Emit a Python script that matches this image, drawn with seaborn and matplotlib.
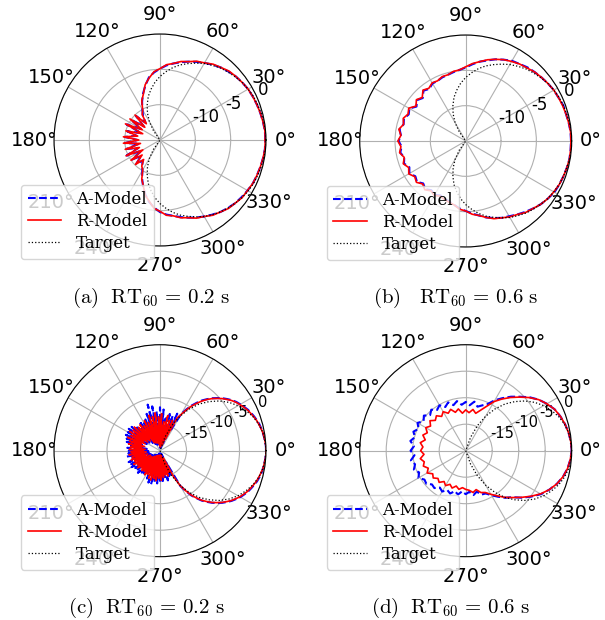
import numpy as np
import matplotlib
matplotlib.use("Agg")
import matplotlib.pyplot as plt
import seaborn as sns

# angles in degrees
ANGLES = list(range(0, 360, 5))
ANGLES_FINE = [i * 2.5 for i in range(144)]  # used for panel (c)

# target patterns (dB)
TARGET_TOP = [0.0, -0.0, -0.1, -0.2, -0.3, -0.4, -0.6, -0.8, -1.1, -1.4, -1.7, -2.1,
              -2.5, -3.0, -3.5, -4.0, -4.6, -5.3, -6.0, -6.8, -7.7, -8.6, -9.7, -10.8,
              -12.0, -13.4, -15.0, -15.0, -15.0, -15.0, -15.0, -15.0, -15.0, -15.0, -15.0, -15.0,
              -15.0, -15.0, -15.0, -15.0, -15.0, -15.0, -15.0, -15.0, -15.0, -15.0, -15.0, -13.4,
              -12.0, -10.8, -9.7, -8.6, -7.7, -6.8, -6.0, -5.3, -4.6, -4.0, -3.5, -3.0,
              -2.5, -2.1, -1.7, -1.4, -1.1, -0.8, -0.6, -0.4, -0.3, -0.2, -0.1, -0.0]

TARGET_BOT = [0.0, -0.1, -0.3, -0.7, -1.3, -2.1, -3.0, -4.1, -5.4, -6.9, -8.5, -10.4,
              -12.5, -14.8, -17.3, -20.0, -20.0, -20.0, -20.0, -20.0, -20.0, -20.0, -20.0, -20.0,
              -20.0, -20.0, -20.0, -20.0, -20.0, -20.0, -20.0, -20.0, -20.0, -20.0, -20.0, -20.0,
              -20.0, -20.0, -20.0, -20.0, -20.0, -20.0, -20.0, -20.0, -20.0, -20.0, -20.0, -20.0,
              -20.0, -20.0, -20.0, -20.0, -20.0, -20.0, -20.0, -20.0, -20.0, -20.0, -17.3, -14.8,
              -12.5, -10.4, -8.5, -6.9, -5.4, -4.1, -3.0, -2.1, -1.3, -0.7, -0.3, -0.1]

# (a) RT60 = 0.2 s, top row
A_MODEL_A = [-0.1, -0.1, -0.2, -0.3, -0.4, -0.5, -0.6, -0.8, -1.0, -1.3, -1.6, -2.0,
             -2.4, -2.8, -3.2, -3.6, -4.0, -4.4, -4.9, -5.4, -6.0, -7.0, -8.0, -9.0,
             -10.0, -10.8, -11.8, -10.2, -12.0, -10.0, -11.9, -9.8, -12.2, -10.2, -11.6, -10.0,
             -11.8, -10.0, -12.0, -10.1, -11.7, -9.8, -12.0, -10.2, -11.5, -10.3, -11.2, -10.6,
             -10.0, -9.0, -8.0, -7.0, -6.1, -5.4, -4.8, -4.4, -4.1, -3.7, -3.3, -2.9,
             -2.5, -2.1, -1.7, -1.4, -1.1, -0.9, -0.7, -0.5, -0.4, -0.3, -0.2, -0.1]
R_MODEL_A = [-0.1, -0.1, -0.2, -0.3, -0.4, -0.5, -0.6, -0.8, -1.0, -1.2, -1.6, -1.9,
             -2.4, -2.7, -3.2, -3.5, -4.0, -4.3, -4.9, -5.3, -6.1, -6.9, -8.1, -8.9,
             -10.1, -10.6, -12.0, -10.0, -12.2, -9.8, -12.1, -9.6, -12.4, -10.0, -11.8, -9.8,
             -12.0, -9.8, -12.2, -9.9, -11.9, -9.7, -12.2, -10.0, -11.7, -10.1, -11.4, -10.5,
             -10.1, -8.9, -8.1, -6.9, -6.2, -5.3, -4.9, -4.3, -4.1, -3.6, -3.3, -2.8,
             -2.5, -2.0, -1.7, -1.3, -1.1, -0.8, -0.7, -0.5, -0.4, -0.3, -0.2, -0.1]

# (b) RT60 = 0.6 s, top row
A_MODEL_B = [-0.1, -0.1, -0.2, -0.3, -0.3, -0.5, -0.6, -0.8, -1.0, -1.2, -1.4, -1.7,
             -1.9, -2.3, -2.7, -3.2, -3.6, -4.1, -4.6, -4.9, -5.1, -5.3, -5.4, -5.6,
             -5.6, -6.0, -5.7, -6.4, -6.0, -6.5, -5.8, -6.1, -5.7, -5.9, -5.5, -5.8,
             -5.5, -5.9, -5.6, -6.0, -5.7, -6.2, -5.8, -6.3, -6.0, -6.5, -6.1, -6.5,
             -6.2, -6.5, -6.3, -6.1, -5.8, -5.4, -5.1, -4.7, -4.3, -3.8, -3.4, -3.0,
             -2.7, -2.3, -1.9, -1.5, -1.1, -0.8, -0.5, -0.4, -0.3, -0.2, -0.1, -0.1]
R_MODEL_B = [-0.1, -0.1, -0.2, -0.3, -0.4, -0.5, -0.6, -0.8, -1.0, -1.2, -1.5, -1.7,
             -2.0, -2.3, -2.7, -3.1, -3.6, -4.0, -4.5, -4.9, -5.0, -5.3, -5.3, -5.6,
             -5.5, -5.9, -5.6, -6.3, -5.9, -6.4, -5.7, -6.0, -5.6, -5.9, -5.4, -5.8,
             -5.4, -5.8, -5.5, -6.0, -5.6, -6.1, -5.7, -6.2, -5.9, -6.4, -6.0, -6.4,
             -6.1, -6.4, -6.2, -6.0, -5.8, -5.3, -5.1, -4.6, -4.3, -3.8, -3.3, -3.0,
             -2.6, -2.3, -1.8, -1.5, -1.1, -0.8, -0.6, -0.4, -0.3, -0.2, -0.1, -0.1]

# (c) RT60 = 0.2 s, bottom row (2.5 deg steps)
A_MODEL_C = [0.0, 0.0, -0.1, -0.2, -0.3, -0.45, -0.6, -0.85, -1.1, -1.4, -1.7, -2.1,
             -2.5, -2.9, -3.4, -4.0, -4.6, -5.3, -6.0, -6.8, -7.6, -8.6, -9.6, -10.8,
             -12.0, -15.5, -12.3, -18.5, -13.0, -19.2, -12.5, -17.8, -13.8, -19.5, -12.2, -18.0,
             -11.8, -19.0, -12.5, -17.5, -11.5, -18.6, -11.0, -17.2, -12.6, -18.8, -13.5, -17.0,
             -14.0, -18.5, -13.2, -16.8, -14.2, -18.0, -13.4, -16.5, -13.0, -17.5, -12.8, -16.0,
             -13.0, -17.2, -12.9, -15.8, -13.3, -16.9, -13.5, -16.2, -14.0, -17.5, -13.8, -16.4,
             -14.1, -17.8, -14.0, -16.6, -13.6, -17.9, -14.2, -16.5, -13.7, -18.2, -14.0, -16.9,
             -13.8, -18.4, -14.3, -17.0, -14.5, -18.8, -14.1, -17.6, -14.6, -19.0, -14.4, -17.8,
             -14.8, -19.2, -14.2, -18.0, -13.6, -19.4, -13.4, -17.6, -14.0, -19.0, -13.8, -18.2,
             -14.3, -19.5, -13.9, -18.4, -14.5, -19.1, -14.2, -18.6, -14.9, -19.3, -15.0, -17.5,
             -12.3, -11.0, -9.7, -8.7, -7.7, -6.9, -6.1, -5.4, -4.7, -4.1, -3.5, -3.0,
             -2.5, -2.1, -1.7, -1.4, -1.1, -0.8, -0.6, -0.4, -0.3, -0.2, -0.1, 0.0]
R_MODEL_C = [0.0, 0.0, -0.1, -0.2, -0.3, -0.5, -0.7, -0.9, -1.2, -1.5, -1.8, -2.2,
             -2.6, -3.0, -3.5, -4.1, -4.7, -5.4, -6.1, -6.9, -7.8, -8.8, -9.8, -11.0,
             -12.2, -13.0, -17.5, -13.8, -18.8, -14.0, -19.0, -13.2, -18.6, -14.5, -19.3, -13.0,
             -18.2, -13.6, -19.0, -12.8, -18.0, -13.4, -18.5, -13.0, -17.8, -14.2, -18.4, -13.6,
             -17.6, -14.4, -18.2, -13.8, -17.0, -14.0, -17.4, -13.4, -16.8, -13.6, -17.2, -13.2,
             -16.4, -13.8, -16.9, -13.4, -16.2, -14.0, -17.0, -13.9, -16.5, -14.4, -17.2, -14.2,
             -16.8, -14.5, -17.4, -14.1, -16.9, -14.6, -17.6, -14.3, -17.1, -14.8, -18.0, -14.4,
             -17.3, -15.0, -18.1, -14.7, -17.6, -15.2, -18.5, -14.9, -18.0, -15.1, -18.8, -14.6,
             -18.3, -15.0, -19.0, -14.4, -18.5, -14.2, -19.1, -14.6, -18.2, -14.3, -18.9, -14.8,
             -18.0, -14.4, -19.2, -14.9, -18.4, -15.3, -19.0, -15.0, -18.2, -15.6, -18.5, -14.5,
             -12.4, -11.1, -9.8, -8.8, -7.8, -7.0, -6.2, -5.5, -4.8, -4.2, -3.6, -3.1,
             -2.6, -2.2, -1.8, -1.5, -1.2, -0.9, -0.7, -0.5, -0.3, -0.2, -0.1, 0.0]

# (d) RT60 = 0.6 s, bottom row
A_MODEL_D = [0.0, -0.1, -0.3, -0.6, -1.0, -1.5, -2.3, -3.2, -4.3, -5.6, -6.7, -7.9,
             -9.0, -10.3, -10.9, -11.4, -10.6, -11.4, -10.8, -11.3, -10.5, -11.1, -10.3, -10.9,
             -10.1, -10.6, -9.9, -10.5, -9.7, -10.3, -9.5, -10.2, -9.5, -10.1, -9.4, -10.2,
             -9.6, -10.3, -9.5, -10.1, -9.6, -10.3, -9.7, -10.5, -10.3, -11.0, -10.8, -11.5,
             -11.1, -11.8, -11.4, -12.1, -11.6, -12.3, -11.8, -12.2, -11.5, -12.0, -11.2, -11.1,
             -10.3, -9.4, -8.4, -7.6, -6.2, -4.9, -3.6, -2.6, -1.7, -1.0, -0.5, -0.2]
R_MODEL_D = [0.0, -0.1, -0.3, -0.6, -1.0, -1.5, -2.3, -3.2, -4.4, -5.7, -6.9, -8.1,
             -9.3, -10.8, -11.9, -12.7, -12.1, -12.8, -12.3, -12.9, -12.0, -12.5, -11.7, -12.2,
             -11.5, -12.1, -11.4, -11.9, -11.2, -11.9, -11.3, -12.0, -11.4, -12.1, -11.3, -11.9,
             -11.5, -12.1, -11.3, -11.9, -11.5, -12.2, -11.6, -12.4, -12.0, -12.6, -12.2, -12.9,
             -12.4, -13.0, -12.5, -13.1, -12.6, -13.0, -12.7, -12.5, -12.0, -12.4, -11.6, -11.3,
             -10.5, -9.6, -8.5, -7.5, -6.3, -5.0, -3.7, -2.6, -1.7, -1.0, -0.5, -0.2]

CAPTIONS = [r"$(\mathrm{a})\ \ \mathrm{RT}_{60}\,=\,0.2\ \mathrm{s}$",
            r"$(\mathrm{b})\ \ \ \mathrm{RT}_{60}\,=\,0.6\ \mathrm{s}$",
            r"$(\mathrm{c})\ \ \mathrm{RT}_{60}\,=\,0.2\ \mathrm{s}$",
            r"$(\mathrm{d})\ \ \mathrm{RT}_{60}\,=\,0.6\ \mathrm{s}$"]

plt.rcParams["axes.unicode_minus"] = False
plt.rcParams["mathtext.fontset"] = "cm"


def closed(angles, vals):
    # repeat first point so the curve closes at 360 deg
    th = np.deg2rad(list(angles) + [360])
    return th, list(vals) + [vals[0]]


def draw_panel(ax, angles, a_vals, r_vals, t_vals, rmin, rticks, rsize):
    th, a = closed(angles, a_vals)
    sns.lineplot(x=th, y=a, ax=ax, color="blue", linestyle="--", linewidth=1.5,
                 label="A-Model", sort=False)
    th, r = closed(angles, r_vals)
    sns.lineplot(x=th, y=r, ax=ax, color="red", linestyle="-", linewidth=1.2,
                 label="R-Model", sort=False)
    th, t = closed(ANGLES, t_vals)
    sns.lineplot(x=th, y=t, ax=ax, color="black", linestyle=":", linewidth=0.9,
                 label="Target", sort=False)
    ax.set_rlim(rmin, 0)
    ax.set_rticks(rticks)
    ax.set_yticklabels([str(v) for v in rticks], fontsize=rsize)
    ax.set_thetagrids(range(0, 360, 30))
    ax.tick_params(axis="x", labelsize=14)
    ax.set_xlabel("")
    ax.set_ylabel("")
    ax.grid(True, color="#b0b0b0", linewidth=0.8)
    ax.legend(loc="lower left", bbox_to_anchor=(-0.156, -0.061), borderaxespad=0,
              prop={"family": "DejaVu Serif", "size": 12}, labelspacing=0.3,
              handlelength=2.0, handletextpad=0.9)


fig = plt.figure(figsize=(6.05, 6.2), dpi=100)
w, h = 212 / 605, 212 / 620
axes = [fig.add_axes([54 / 605, 1 - 246 / 620, w, h], projection="polar"),
        fig.add_axes([359.7 / 605, 1 - 247 / 620, w, h], projection="polar"),
        fig.add_axes([54 / 605, 1 - 556.7 / 620, w, h], projection="polar"),
        fig.add_axes([359.7 / 605, 1 - 556.7 / 620, w, h], projection="polar")]

draw_panel(axes[0], ANGLES, A_MODEL_A, R_MODEL_A, TARGET_TOP, -15, [-10, -5, 0], 12)
draw_panel(axes[1], ANGLES, A_MODEL_B, R_MODEL_B, TARGET_TOP, -15, [-10, -5, 0], 12)
draw_panel(axes[2], ANGLES_FINE, A_MODEL_C, R_MODEL_C, TARGET_BOT, -20, [-15, -10, -5, 0], 10.5)
draw_panel(axes[3], ANGLES, A_MODEL_D, R_MODEL_D, TARGET_BOT, -20, [-15, -10, -5, 0], 10.5)

cap_pos = [(151, 298), (456, 298), (146, 608), (451, 608)]
for (cx, cy), cap in zip(cap_pos, CAPTIONS):
    fig.text(cx / 605, 1 - cy / 620, cap, ha="center", va="center", fontsize=15)

fig.savefig("out.png", dpi=100)
